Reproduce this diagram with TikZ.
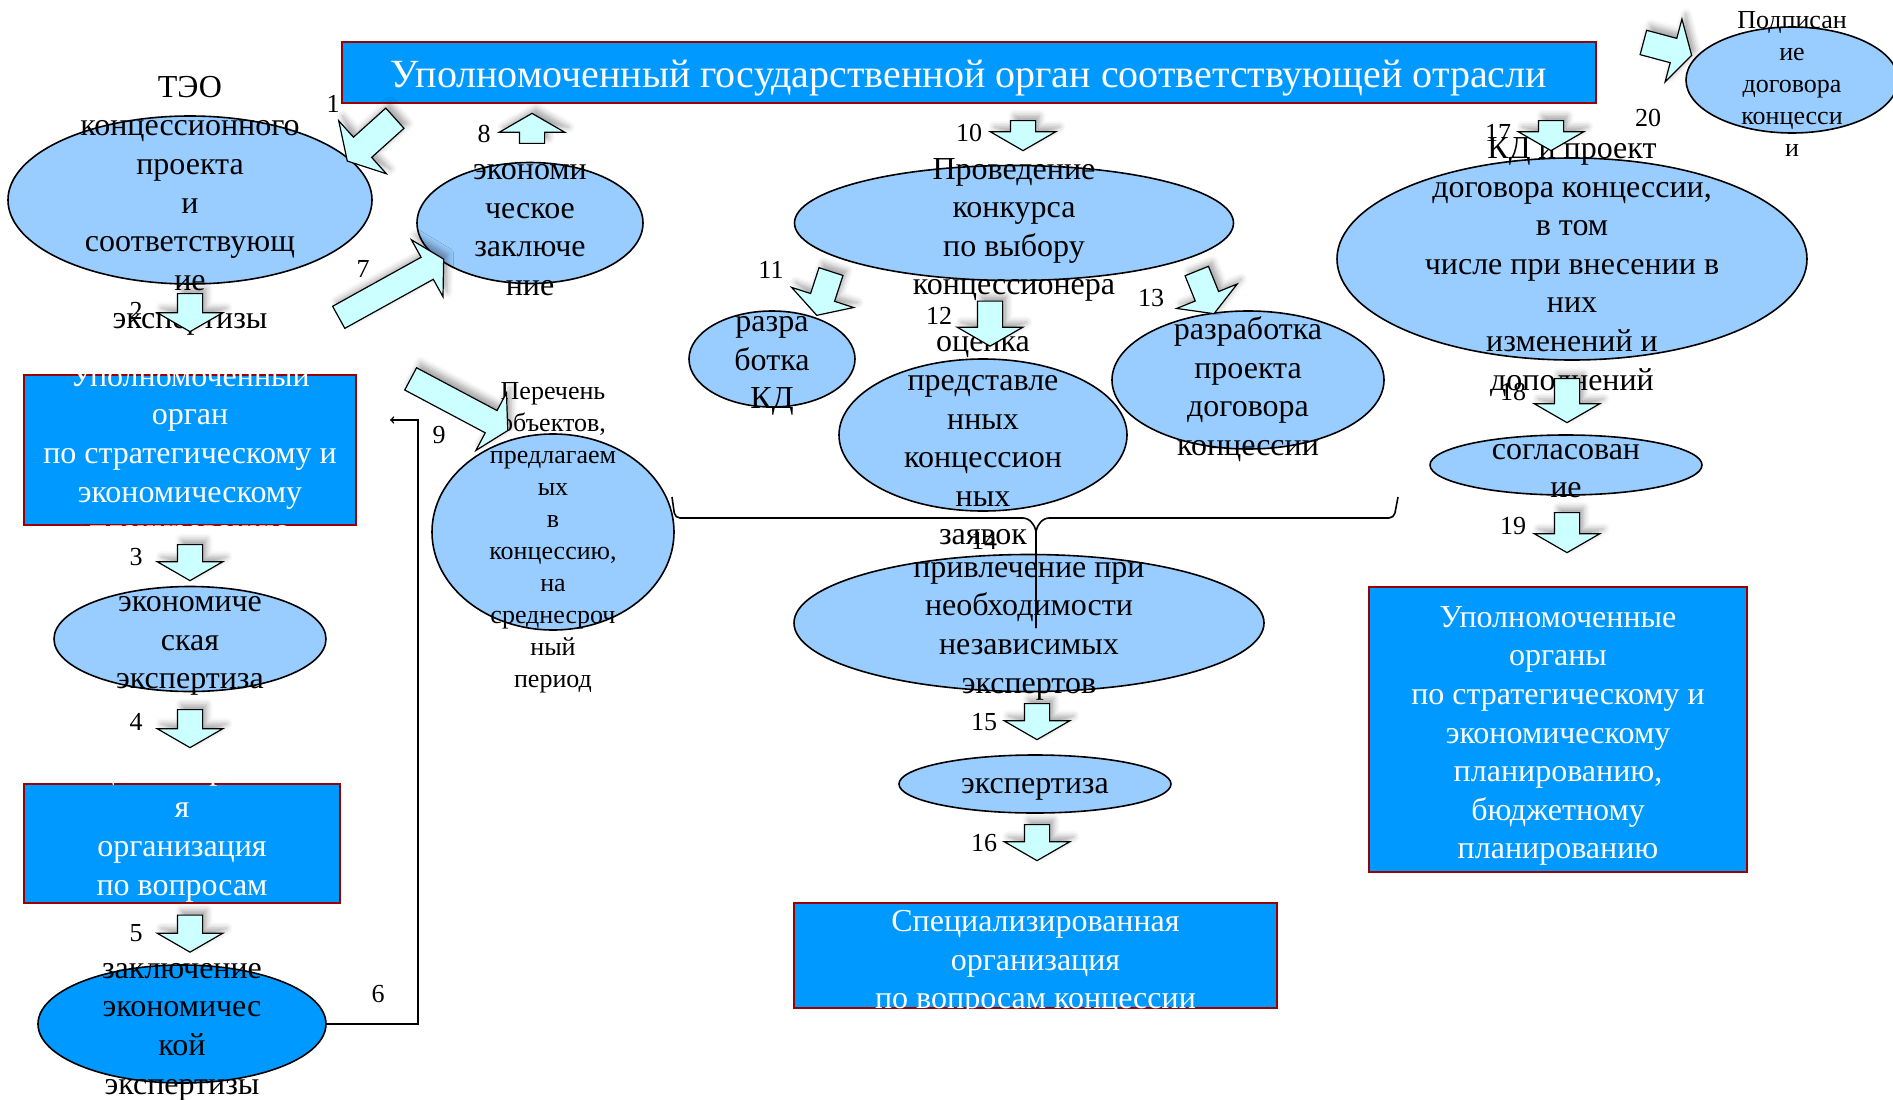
\documentclass[tikz,border=0pt]{standalone}
\usepackage{fontspec}
\setmainfont{Liberation Serif}
\usetikzlibrary{positioning,shapes.geometric,shapes.arrows,shadows.blur}
\definecolor{boxblue}{HTML}{0099FF}
\definecolor{ovalblue}{HTML}{99CCFF}
\definecolor{boxred}{HTML}{990000}
\definecolor{arrowcyan}{HTML}{CCFFFF}
\tikzset{
  oval/.style 2 args={ellipse, draw, line width=1.6pt, fill=ovalblue, inner sep=0, minimum width=#1pt, minimum height=#2pt},
  darkoval/.style 2 args={oval={#1}{#2}, fill=boxblue},
  orgbox/.style 2 args={rectangle, draw=boxred, line width=2.2pt, fill=boxblue, inner sep=0, minimum width=#1pt, minimum height=#2pt},
  txt/.style={align=center, inner sep=0, font=\fontsize{32}{38.6}\selectfont},
  wtxt/.style={txt, text=white},
  smalltxt/.style={align=center, inner sep=0, font=\fontsize{26}{32}\selectfont},
  num/.style={inner sep=0, font=\fontsize{26}{30}\selectfont},
  blk/.style={single arrow, draw, line width=1.2pt, fill=arrowcyan, inner xsep=0, inner ysep=12pt,
    single arrow head extend=20pt, single arrow tip angle=120, minimum height=#1pt,
    blur shadow={shadow xshift=4pt, shadow yshift=5pt, shadow blur radius=6pt, shadow opacity=35}},
  brace/.style={line width=1.6pt, rounded corners=5pt},
}

\begin{document}
\begin{tikzpicture}[x=1pt, y=-1pt]
\useasboundingbox (0,0) rectangle (1893,1100);

\node[orgbox={1254}{61}] (auth) at (969,72.5) {};
\node[wtxt, font=\fontsize{40}{48}\selectfont] (autht) at (969,78) {Уполномоченный государственной орган соответствующей отрасли};
\node[orgbox={332}{150}] (plan) at (190,450) {};
\begin{scope}
\clip (plan.north west) rectangle (plan.south east);
\node[wtxt] (plant) at (190,456) {Уполномоченный\\орган\\по стратегическому и\\экономическому\\планированию};
\end{scope}
\node[orgbox={316}{119}] (spec) at (182,843.5) {};
\begin{scope}
\clip (spec.north west) rectangle (spec.south east);
\node[wtxt] (spect) at (182,849) {Специализированна\\я\\организация\\по вопросам\\концессии};
\end{scope}
\node[orgbox={483}{105}] (specorg) at (1035.5,955.5) {};
\node[wtxt] (specorgt) at (1035.5,963) {Специализированная\\организация\\по вопросам концессии};
\node[orgbox={378}{285}] (plans) at (1558,729.5) {};
\node[wtxt] (planst) at (1558,736) {Уполномоченные\\органы\\по стратегическому и\\экономическому\\планированию,\\бюджетному\\планированию};

\node[oval={364}{168}] (teo) at (190,200) {};
\node[txt] (teot) at (190,206) {ТЭО\\концессионного\\проекта\\и\\соответствующ\\ие\\экспертизы};
\node[oval={226}{121}] (econc) at (530,223) {};
\node[txt] (econct) at (530,230) {экономи\\ческое\\заключе\\ние};
\node[oval={439}{115}] (tender) at (1014,223) {};
\node[txt] (tendert) at (1014,230) {Проведение\\конкурса\\по выбору\\концессионера};
\node[oval={470}{202}] (cd) at (1572,259) {};
\node[txt] (cdt) at (1572,267) {КД и проект\\договора концессии,\\в том\\числе при внесении в\\них\\изменений и\\дополнений};
\node[oval={212}{106}] (sign) at (1792,80) {};
\node[smalltxt] (signt) at (1792,84) {Подписан\\ие\\договора\\концесси\\и};
\node[oval={166}{96}] (cdev) at (772,359) {};
\node[txt] (cdevt) at (772,366) {разра\\ботка\\КД};
\node[oval={288}{152}] (bids) at (983,435) {};
\node[txt] (bidst) at (983,441) {оценка\\представле\\нных\\концессион\\ных\\заявок};
\node[oval={272}{138}] (draft) at (1248,380) {};
\node[txt] (draftt) at (1248,389) {разработка\\проекта\\договора\\концессии};
\node[oval={272}{60}] (approve) at (1566,465) {};
\node[txt] (approvet) at (1566,471) {согласован\\ие};
\node[oval={242}{196}] (list) at (553,532) {};
\node[smalltxt] (listt) at (553,538) {Перечень\\объектов,\\предлагаем\\ых\\в\\концессию,\\на\\среднесроч\\ный\\период};
\node[oval={470}{137}] (experts) at (1029,623) {};
\node[txt] (expertst) at (1029,631) {привлечение при\\необходимости\\независимых\\экспертов};
\node[oval={272}{58}] (exam) at (1035,784) {};
\node[txt] (examt) at (1035,789) {экспертиза};
\node[oval={272}{105}] (eexam) at (190,639) {};
\node[txt] (eexamt) at (190,646) {экономиче\\ская\\экспертиза};
\node[darkoval={288}{118}] (econcl) at (182,1024) {};
\node[txt] (econclt) at (182,1032) {заключение\\экономичес\\кой\\экспертизы};

\node[blk=64, rotate=222, inner ysep=13pt, single arrow head extend=22pt] (a1) at (374,137) {};
\node[blk=38, rotate=-90] (a2) at (190,309) {};
\node[blk=36, rotate=-90] (a3) at (190,559) {};
\node[blk=38, rotate=-90] (a4) at (190,725) {};
\node[blk=37, rotate=-90] (a5) at (190,930) {};
\node[blk=120, rotate=29] (a7) at (388,290) {};
\node[blk=30, rotate=90] (a8) at (532,132) {};
\node[blk=110, rotate=-28] (a9) at (456,403) {};
\node[blk=30, rotate=-90] (a10) at (1023,132) {};
\node[blk=46, rotate=-108] (a11) at (825,290) {};
\node[blk=45, rotate=-90] (a12) at (990,320) {};
\node[blk=46, rotate=-68] (a13) at (1204,289) {};
\node[blk=36, rotate=-90] (a15) at (1037,718) {};
\node[blk=36, rotate=-90] (a16) at (1037,839) {};
\node[blk=30, rotate=-90] (a17) at (1551,132) {};
\node[blk=44, rotate=-90] (a18) at (1567,397) {};
\node[blk=40, rotate=-90] (a19) at (1567,529) {};
\node[blk=50, rotate=-15] (a20) at (1664,48) {};

\node[num] (n1) at (333,104) {1};
\node[num] (n2) at (136,311) {2};
\node[num] (n3) at (136,557) {3};
\node[num] (n4) at (136,722) {4};
\node[num] (n5) at (136,933) {5};
\node[num] (n6) at (378,994) {6};
\node[num] (n7) at (363,269) {7};
\node[num] (n8) at (484,134) {8};
\node[num] (n9) at (439,435) {9};
\node[num] (n10) at (969,133) {10};
\node[num] (n11) at (771,270) {11};
\node[num] (n12) at (939,316) {12};
\node[num] (n13) at (1151,298) {13};
\node[num] (n14) at (984,541) {14};
\node[num] (n15) at (984,722) {15};
\node[num] (n16) at (984,843) {16};
\node[num] (n17) at (1498,133) {17};
\node[num] (n18) at (1513,392) {18};
\node[num] (n19) at (1513,526) {19};
\node[num] (n20) at (1648,118) {20};

\draw[->, line width=1.6pt, shorten >=33pt] (econcl.east) -- ++(91,0) |- ([yshift=30pt]plan.east);

\coordinate (brl) at (672,497);
\coordinate (brr) at (1398,497);
\coordinate (brt) at (1036,628);
\draw[brace] (brl) -- ++(3,21) -- (1028,518) -- (1036,528) -- (brt);
\draw[brace] (brt) -- (1036,528) -- (1044,518) -- (1394,518) -- (brr);
\end{tikzpicture}
\end{document}
